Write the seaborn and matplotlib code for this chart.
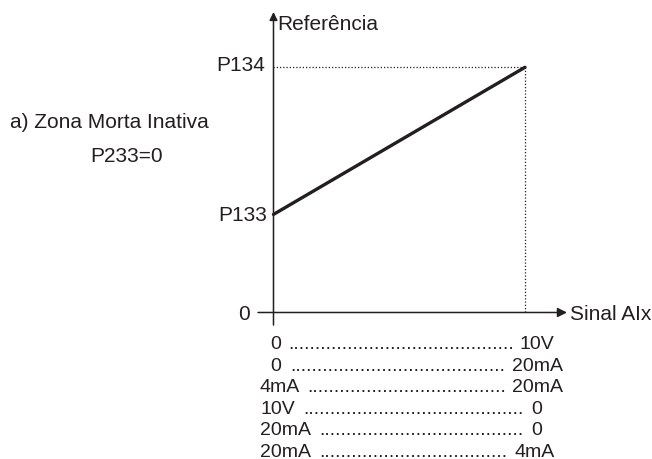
import matplotlib
matplotlib.use("Agg")
import matplotlib.pyplot as plt
import seaborn as sns

# Reference curve: analog input (0..10 scale) against speed reference (P134 = 1)
signal = [0, 10]
reference = [0.4, 1.0]
level_values = [0, 0.4, 1.0]
level_labels = ["0", "P133", "P134"]
x_label = "Sinal AIx"
y_label = "Referência"
caption = ["a) Zona Morta Inativa", "P233=0"]

# Signal ranges printed under the x axis
range_start = ["0", "0", "4mA", "10V", "20mA", "20mA"]
range_end = ["10V", "20mA", "20mA", "0", "0", "4mA"]

sns.set_style("white")
plt.rcParams["font.family"] = ["Liberation Sans", "DejaVu Sans"]
ink = "#231f20"

W, H = 652, 460
fig = plt.figure(figsize=(W / 100, H / 100), dpi=100)


def fx(px):
    return px / W


def fy(py):
    return 1 - py / H


ax = fig.add_axes([fx(258), fy(326), fx(567) - fx(258), fy(13) - fy(326)])
ax.set_xlim(-0.616, 11.67)
ax.set_ylim(-0.051, 1.2255)
ax.axis("off")

# main curve
sns.lineplot(x=signal, y=reference, ax=ax, color=ink, lw=2.4)

# dotted guides to the end point
dots = (0, (1, 1.6))
ax.hlines(reference[-1], signal[0], signal[-1], colors=ink, linestyles=dots, lw=0.9)
ax.vlines(signal[-1], 0, reference[-1], colors=ink, linestyles=dots, lw=0.9)

# axes with arrow heads
x0, x1 = ax.get_xlim()
y0, y1 = ax.get_ylim()
arrow = dict(arrowstyle="-|>", color=ink, lw=1.1, shrinkA=0, shrinkB=0, mutation_scale=14)
ax.annotate("", xy=(x1, 0), xytext=(x0, 0), arrowprops=arrow, annotation_clip=False)
arrow_y = dict(arrow, mutation_scale=12)
ax.annotate("", xy=(0, y1), xytext=(0, y0), arrowprops=arrow_y, annotation_clip=False)

# level labels on the y axis
offsets = [(-16.9, -4.7), (-4.9, -4.1), (-6.1, -1.7)]
for val, lab, off in zip(level_values, level_labels, offsets):
    ax.annotate(lab, xy=(0, val), xytext=off, textcoords="offset points",
                ha="right", va="baseline", fontsize=15, color=ink, annotation_clip=False)

ax.annotate(x_label, xy=(x1, 0), xytext=(2.2, -4.7), textcoords="offset points",
            ha="left", va="baseline", fontsize=15, color=ink, annotation_clip=False)
ax.annotate(y_label, xy=(0, y1), xytext=(2.7, -12), textcoords="offset points",
            ha="left", va="baseline", fontsize=15, color=ink, annotation_clip=False)

# caption on the left
fig.text(fx(10), fy(127.5), caption[0], ha="left", va="baseline", fontsize=15, color=ink)
fig.text(fx(90), fy(161.7), caption[1], ha="left", va="baseline", fontsize=15, color=ink)

# range table
left_px = [270.7, 270.7, 260, 260, 260, 260]
right_px = [554, 563.3, 563.3, 541.7, 541.7, 555]
rows = []
for i, (a, b) in enumerate(zip(range_start, range_end)):
    base = 349.5 + 21.5 * i
    ta = fig.text(fx(left_px[i]), fy(base), a, ha="left", va="baseline", fontsize=14, color=ink)
    tb = fig.text(fx(right_px[i]), fy(base), b, ha="right", va="baseline", fontsize=14, color=ink)
    rows.append((ta, tb, base))

fig.canvas.draw()
renderer = fig.canvas.get_renderer()
probe = fig.text(0, 0, "." * 40, fontsize=14)
dot_w = probe.get_window_extent(renderer).width / 40
probe.remove()

for ta, tb, base in rows:
    start = ta.get_window_extent(renderer).x1 + 6
    end = tb.get_window_extent(renderer).x0 - 5
    n = int((end - start) / dot_w)
    fig.text((start + end) / 2 / W, fy(base), "." * n, ha="center", va="baseline",
             fontsize=14, color=ink)

fig.savefig("out.png", dpi=100)
